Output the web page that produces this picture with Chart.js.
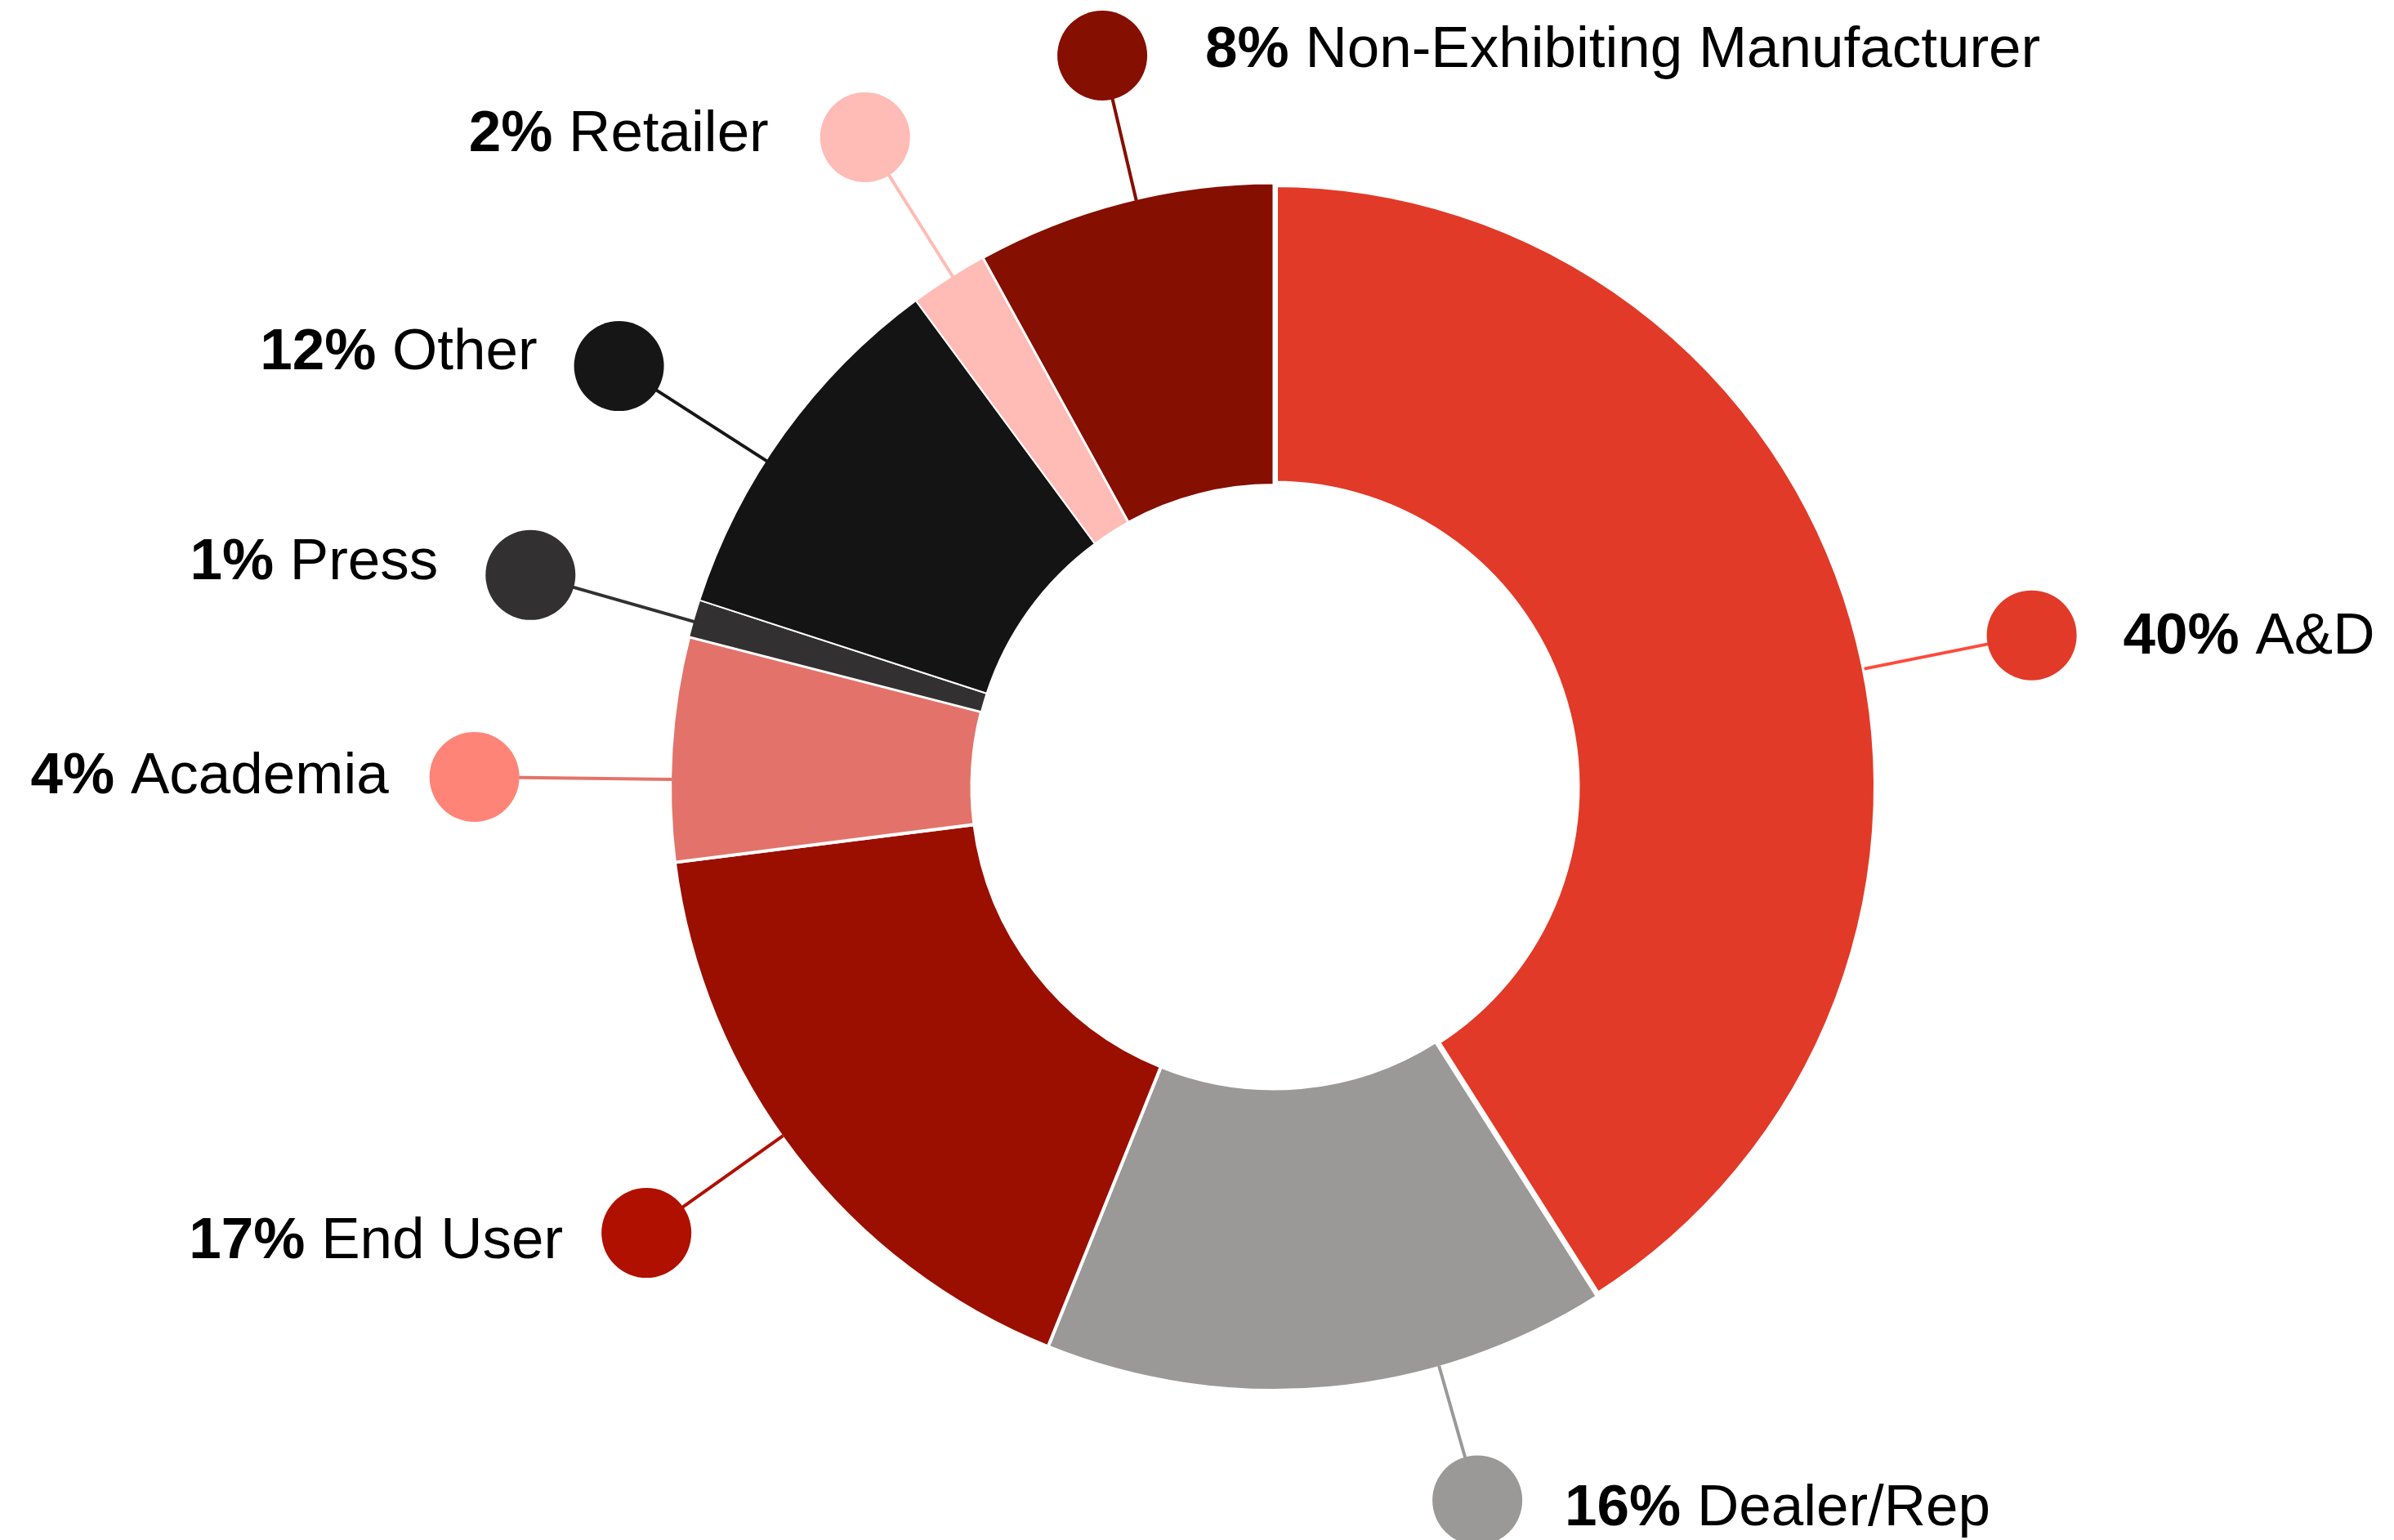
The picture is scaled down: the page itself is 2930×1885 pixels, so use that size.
<!DOCTYPE html>
<html>
<head>
<meta charset="utf-8">
<script src="https://cdn.jsdelivr.net/npm/chart.js@4.4.1/dist/chart.umd.min.js"></script>
<style>
  html, body { margin: 0; padding: 0; background: #ffffff; }
  #wrap { width: 2930px; height: 1885px; position: relative; }
</style>
</head>
<body>
<div id="wrap"><canvas id="c"></canvas></div>
<script>
// ---------- data ----------
const categories = ['A&D', 'Dealer/Rep', 'End User', 'Academia', 'Press', 'Other', 'Retailer', 'Non-Exhibiting Manufacturer'];
const sliceValues = [41.0, 15.1, 16.9, 6.0, 1.0, 9.9, 2.1, 8.0];
const labelPercents = ['40%', '16%', '17%', '4%', '1%', '12%', '2%', '8%'];

// ---------- styles ----------
const sliceColors = ['#e23a28', '#9a9997', '#9b0f00', '#e3736a', '#323031', '#141414', '#ffbbb5', '#850f00'];
const dotColors   = ['#e23a28', '#9a9997', '#b01000', '#ff8478', '#323031', '#161616', '#ffbbb5', '#850f00'];
const lineColors  = ['#ff4a3a', '#9a9997', '#b01000', '#e3736a', '#323031', '#161616', '#ffbbb5', '#850f00'];
const sliceBorders = [10, 4, 4, 4, 2, 2, 2, 3];

// callout layout (relative to each slice's own geometry)
const calloutLayout = {
  angleNudge: [4.9, -10.7, 2.2, -2.9, -0.3, -3.1, 0.4, 1.2],     // degrees
  radiusFactor: [1.28, 1.229, 1.275, 1.324, 1.28, 1.289, 1.271, 1.244],
  side: ['right', 'right', 'left', 'left', 'left', 'left', 'left', 'right'],
  gap: [57, 52, 47, 50, 58, 45, 63, 71],
  dy: [-3, 5, 6, -5, -20, -22, -8, -11],
  dotRadius: 55,
  lineWidth: 4,
  fontSize: 71,
  fontFamily: '"Liberation Sans", Arial, sans-serif'
};

const calloutPlugin = {
  id: 'callouts',
  afterDatasetsDraw(chart) {
    const ctx = chart.ctx;
    const meta = chart.getDatasetMeta(0);
    const L = calloutLayout;
    meta.data.forEach((arc, i) => {
      const p = arc.getProps(['x', 'y', 'startAngle', 'endAngle', 'outerRadius'], true);
      const a = (p.startAngle + p.endAngle) / 2 + L.angleNudge[i] * Math.PI / 180;
      const rDot = p.outerRadius * L.radiusFactor[i];
      const dx = p.x + Math.cos(a) * rDot;
      const dy = p.y + Math.sin(a) * rDot;
      const sx = p.x + Math.cos(a) * (p.outerRadius - 2);
      const sy = p.y + Math.sin(a) * (p.outerRadius - 2);
      ctx.save();
      ctx.strokeStyle = lineColors[i];
      ctx.lineWidth = L.lineWidth;
      ctx.beginPath();
      ctx.moveTo(sx, sy);
      ctx.lineTo(dx, dy);
      ctx.stroke();
      ctx.fillStyle = dotColors[i];
      ctx.beginPath();
      ctx.arc(dx, dy, L.dotRadius, 0, Math.PI * 2);
      ctx.fill();

      // text
      const boldFont = 'bold ' + L.fontSize + 'px ' + L.fontFamily;
      const regFont = L.fontSize + 'px ' + L.fontFamily;
      const pct = labelPercents[i];
      const name = ' ' + categories[i];
      ctx.font = boldFont;
      const wB = ctx.measureText(pct).width;
      ctx.font = regFont;
      const wR = ctx.measureText(name).width;
      const total = wB + wR;
      let tx;
      if (L.side[i] === 'right') {
        tx = dx + L.dotRadius + L.gap[i];
      } else {
        tx = dx - L.dotRadius - L.gap[i] - total;
      }
      const baseline = dy + L.dy[i] + L.fontSize * 0.716 / 2;
      ctx.fillStyle = '#000000';
      ctx.textBaseline = 'alphabetic';
      ctx.textAlign = 'left';
      ctx.font = boldFont;
      ctx.fillText(pct, tx, baseline);
      ctx.font = regFont;
      ctx.fillText(name, tx + wB, baseline);
      ctx.restore();
    });
  }
};

new Chart(document.getElementById('c'), {
  type: 'doughnut',
  data: {
    labels: categories,
    datasets: [{
      data: sliceValues,
      backgroundColor: sliceColors,
      borderColor: '#ffffff',
      borderWidth: sliceBorders,
      borderAlign: 'center'
    }]
  },
  options: {
    responsive: true,
    maintainAspectRatio: false,
    animation: false,
    cutout: '50%',
    layout: { padding: { left: 815, right: 627, top: 219, bottom: 178 } },
    plugins: {
      legend: { display: false },
      tooltip: { enabled: false }
    }
  },
  plugins: [calloutPlugin]
});
</script>
</body>
</html>
